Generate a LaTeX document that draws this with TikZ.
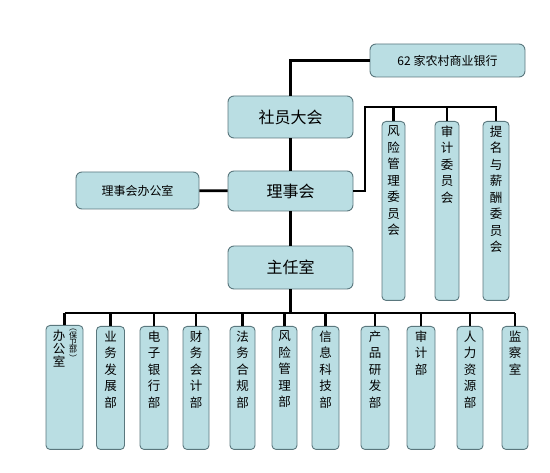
\documentclass[tikz,border=0pt]{standalone}
\usepackage{fontspec}
\setmainfont{Noto Sans CJK SC}
\usepackage{tikz}
\usetikzlibrary{positioning}
\definecolor{boxfill}{HTML}{BADEE3}
\definecolor{boxline}{HTML}{5A777D}

\begin{document}
\begin{tikzpicture}[x=1pt,y=-1pt,box/.style={draw=boxline,fill=boxfill,line width=0.9pt,rounded corners=6pt},head/.style={box,minimum width=125pt,minimum height=42pt,font=\fontsize{16}{18}\selectfont},side/.style={box,font=\fontsize{12}{14}\selectfont},col/.style={box,rounded corners=4pt,anchor=north,minimum width=#1,inner sep=0pt},col/.default=26pt,vlab/.style={anchor=north,inner sep=0pt,yshift=-4.5pt,align=center,font=\fontsize{12.5}{16.5}\selectfont},link/.style={line width=2.6pt,black}]
\useasboundingbox (0,0) rectangle (550,473);
% top part
\node[side,minimum width=155pt,minimum height=33pt] (bank) at (447.5,60.5) {62 家农村商业银行};
\node[head] (sy) at (290.5,117) {社员大会};
\node[head,minimum height=40pt] (lsh) at (290.5,191) {理事会};
\node[side,minimum width=123pt,minimum height=37pt] (bgs) at (137.5,190.5) {理事会办公室};
\node[head,minimum height=43pt] (zr) at (290.5,267.5) {主任室};
% committees
\coordinate (cbus) at (365,107);
\node[col=23pt,minimum height=179pt,label={[vlab]north:风\\险\\管\\理\\委\\员\\会}] (c1) at (393.5,121) {};
\node[col=24pt,minimum height=179pt,label={[vlab]north:审\\计\\委\\员\\会}] (c2) at (447,121) {};
\node[col,minimum height=179pt,label={[vlab]north:提\\名\\与\\薪\\酬\\委\\员\\会}] (c3) at (496,121) {};
% departments
\coordinate (dbus) at (0,313);
\node[col=37pt,minimum height=124pt,label={[vlab,xshift=-5.5pt,font=\fontsize{12.5}{13}\selectfont]north:办\\公\\室},label={[vlab,xshift=8.5pt,yshift=1pt,font=\fontsize{8}{7.2}\selectfont]north:︵\\保\\卫\\部\\︶}] (d1) at (64.5,325) {};
\node[col=28pt,minimum height=123pt,label={[vlab]north:业\\务\\发\\展\\部}] (d2) at (110.5,326) {};
\node[col=28pt,minimum height=123pt,label={[vlab]north:电\\子\\银\\行\\部}] (d3) at (154,326) {};
\node[col,minimum height=123pt,label={[vlab]north:财\\务\\会\\计\\部}] (d4) at (196,326) {};
\node[col=25pt,minimum height=123pt,label={[vlab]north:法\\务\\合\\规\\部}] (d5) at (242.5,326) {};
\node[col=25pt,minimum height=123pt,label={[vlab]north:风\\险\\管\\理\\部}] (d6) at (284.5,326) {};
\node[col=27pt,minimum height=123pt,label={[vlab]north:信\\息\\科\\技\\部}] (d7) at (325.5,326) {};
\node[col=28pt,minimum height=123pt,label={[vlab]north:产\\品\\研\\发\\部}] (d8) at (375,326) {};
\node[col=28pt,minimum height=123pt,label={[vlab]north:审\\计\\部}] (d9) at (421,326) {};
\node[col,minimum height=123pt,label={[vlab]north:人\\力\\资\\源\\部}] (d10) at (470,326) {};
\node[col,minimum height=123pt,label={[vlab]north:监\\察\\室}] (d11) at (515,326) {};
% connectors
\draw[link] (sy.north) |- (bank.west);
\draw[link] (sy) -- (lsh);
\draw[link] (lsh) -- (zr);
\draw[link] (bgs) -- (lsh);
\draw[link] (lsh.east) -| (cbus) -| (c3.north);
\foreach \i in {1,2} \draw[link] (c\i.north) -- (c\i.north |- cbus);
\draw[link] (zr) -- (zr |- dbus);
\draw[link] (d1.north |- dbus) -- (d11.north |- dbus);
\foreach \i in {1,...,11} \draw[link] (d\i.north) -- (d\i.north |- dbus);
\end{tikzpicture}
\end{document}
